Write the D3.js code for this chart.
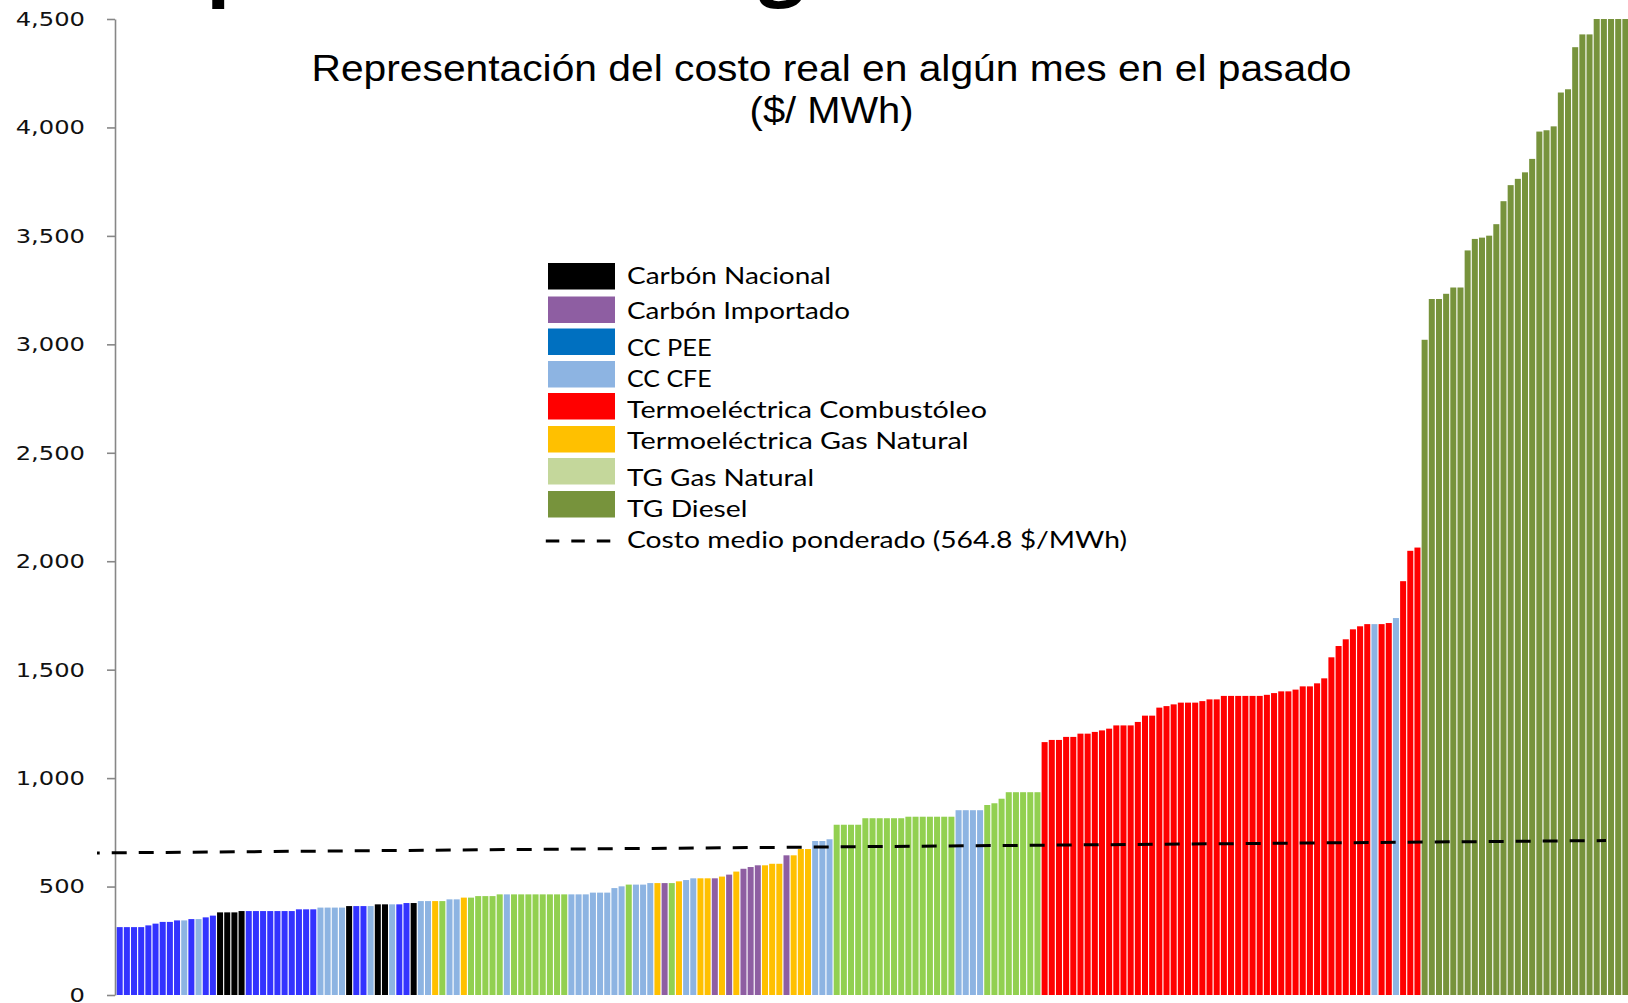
<!DOCTYPE html>
<html><head><meta charset="utf-8">
<script src="https://cdn.jsdelivr.net/npm/d3@7"></script>
<style>
html,body{margin:0;padding:0;background:#fff;overflow:hidden}
svg{display:block}
</style></head>
<body>
<svg id="chart" width="1628" height="1003"></svg>
<script>
// ---------- DATA ----------
const typeKeys = ["N","I","P","C","R","Y","G","D"];
const legendLabels = ["Carbón Nacional","Carbón Importado","CC PEE","CC CFE",
  "Termoeléctrica Combustóleo","Termoeléctrica Gas Natural","TG Gas Natural","TG Diesel"];
const legendColors = ["#000000","#8E5EA2","#0070C0","#8DB4E2","#FF0000","#FFC000","#C4D79B","#77933C"];
const barColors    = ["#000000","#8E5EA2","#3333FF","#8DB4E2","#FF0000","#FFC000","#92D050","#77933C"];
const avgLabel = "Costo medio ponderado (564.8 $/MWh)";
const titleLines = ["Representación del costo real en algún mes en el pasado", "($/ MWh)"];
const headingParts = ["Com", "paración de ", "generación"];
const yTicks = [0,500,1000,1500,2000,2500,3000,3500,4000,4500];

const barTypes = [
 "P","P","P","P","P","P","P","P","P","C","P","C","P","P",
 "N","N","N","N","P","P","P","P","P","P","P","P","P","P",
 "C","C","C","C","N","P","P","C","N","N","C","P","P","N",
 "C","C","Y","G","C","C","Y","G","G","G","G","G","C","G",
 "G","G","G","G","G","G","G","C","C","C","C","C","C","C",
 "C","G","C","C","C","Y","I","G","Y","C","C","Y","Y","I",
 "Y","I","Y","I","I","I","Y","Y","Y","I","Y","Y","Y","C",
 "C","C","G","G","G","G","G","G","G","G","G","G","G","G",
 "G","G","G","G","G","C","C","C","C","G","G","G","G","G",
 "G","G","G","R","R","R","R","R","R","R","R","R","R","R",
 "R","R","R","R","R","R","R","R","R","R","R","R","R","R",
 "R","R","R","R","R","R","R","R","R","R","R","R","R","R",
 "R","R","R","R","R","R","R","C","R","R","C","R","R","R",
 "D","D","D","D","D","D","D","D","D","D","D","D","D","D",
 "D","D","D","D","D","D","D","D","D","D","D","D","D","D","D"
];
const barValues = [
 313,313,313,313,321,329,337,337,344,344,350,350,358,366,
 381,381,381,387,387,387,387,387,387,387,387,395,395,395,
 403,403,403,403,410,410,410,410,418,418,418,418,424,424,
 433,433,433,433,441,441,449,449,456,456,456,464,464,464,
 464,464,464,464,464,464,464,464,464,464,472,472,472,493,
 501,509,509,509,516,516,516,516,524,530,538,538,538,538,
 546,555,569,582,590,598,598,605,605,644,644,673,673,710,
 710,718,785,785,785,785,815,815,815,815,815,815,822,822,
 822,822,822,822,822,852,852,852,852,876,884,905,935,935,
 935,935,935,1166,1176,1176,1190,1190,1205,1205,1213,1220,1228,1243,
 1243,1243,1259,1288,1288,1325,1332,1340,1348,1348,1348,1355,1363,1363,
 1379,1379,1379,1379,1379,1379,1384,1392,1400,1400,1408,1423,1423,1437,
 1460,1557,1609,1640,1686,1700,1710,1710,1710,1715,1738,1908,2048,2063,
 3021,3209,3209,3233,3262,3262,3433,3486,3492,3501,3554,3660,3734,3763,
 3793,3855,3981,3987,4005,4161,4176,4370,4429,4429,4500,4500,4500,4500,4500
];
// weighted-average reference line as drawn (position in bar units, value)
const avgLinePos = [-2.66, 207.8];
const avgLineVal = [655, 712];

// ---------- LAYOUT ----------
const svg = d3.select("#chart");
const W = 1628, H = 1003;
const yTop = 19, yBottom = 995, axisX = 115;
const x0 = 116.1, step = 7.17;
const N = barValues.length;

const bars = barValues.map((v, i) => ({i, v, t: barTypes[i]}));
const colorOf = d3.scaleOrdinal().domain(typeKeys).range(barColors);

const x = d3.scaleBand().domain(d3.range(N)).range([x0, x0 + step * N])
  .paddingInner(0.16).paddingOuter(0.08);
const xPos = d3.scaleLinear().domain([0, N]).range([x0, x0 + step * N]);
const y = d3.scaleLinear().domain([0, 4500]).range([yBottom, yTop]);

svg.append("rect").attr("width", W).attr("height", H).attr("fill", "#fff");

// clipped big heading (only descenders visible)
const headFont = "'Open Sans', 'DejaVu Sans', sans-serif";
svg.append("text").attr("x", 206).attr("y", -10).attr("text-anchor", "end")
  .attr("font-family", headFont).attr("font-weight", 700).attr("font-size", 80).text(headingParts[0]);
svg.append("text").attr("x", 206).attr("y", -10)
  .attr("font-family", headFont).attr("font-weight", 700).attr("font-size", 80).text(headingParts[1]);
svg.append("text").attr("x", 759).attr("y", -10)
  .attr("font-family", headFont).attr("font-weight", 700).attr("font-size", 80).text(headingParts[2]);

// bars
svg.append("g").selectAll("rect").data(bars).join("rect")
  .attr("x", d => x(d.i))
  .attr("width", x.bandwidth())
  .attr("y", d => y(Math.min(d.v, 4500)))
  .attr("height", d => yBottom - y(Math.min(d.v, 4500)))
  .attr("fill", d => colorOf(d.t));

// y axis
const yAxis = d3.axisLeft(y).tickValues(yTicks).tickFormat(d3.format(","))
  .tickSize(8).tickSizeOuter(0).tickPadding(22);
const gy = svg.append("g").attr("transform", `translate(${axisX},0)`).call(yAxis);
gy.select(".domain").attr("stroke", "#878787").attr("stroke-width", 1.6);
gy.selectAll(".tick line").attr("stroke", "#878787").attr("stroke-width", 1.6);
gy.selectAll(".tick text")
  .attr("font-family", "'DejaVu Sans', Verdana, sans-serif")
  .attr("font-size", 20).attr("fill", "#111")
  .each(function() {
    const w = this.getComputedTextLength();
    this.setAttribute("textLength", w * 1.21);
    this.setAttribute("lengthAdjust", "spacingAndGlyphs");
  });

// average dashed line
const avgPts = avgLinePos.map((p, k) => [xPos(p), y(avgLineVal[k])]);
svg.append("path").attr("d", d3.line()(avgPts))
  .attr("stroke", "#000").attr("stroke-width", 3).attr("fill", "none")
  .attr("stroke-dasharray", "15,12").attr("stroke-dashoffset", 12.3);

// title
const titleFont = "'Liberation Sans', Arial, sans-serif";
svg.append("text").attr("x", 311.5).attr("y", 81)
  .attr("font-family", titleFont).attr("font-size", 36).attr("fill", "#000")
  .attr("textLength", 1040).attr("lengthAdjust", "spacingAndGlyphs").text(titleLines[0]);
svg.append("text").attr("x", 749.6).attr("y", 123)
  .attr("font-family", titleFont).attr("font-size", 36).attr("fill", "#000")
  .attr("textLength", 164).attr("lengthAdjust", "spacingAndGlyphs").text(titleLines[1]);

// legend
const legFont = "Lato, 'Open Sans', sans-serif";
const swTops = [263, 296.5, 328.5, 361, 393, 426, 458, 491];
const txtBase = [283.5, 319, 355.5, 386.5, 417.5, 448.5, 485.8, 516.5];
const txtLen = [203.8, 223, 84.6, 84.6, 360, 341.5, 187, 120.4];
const leg = svg.append("g");
legendLabels.forEach((lab, k) => {
  leg.append("rect").attr("x", 548).attr("y", swTops[k]).attr("width", 67).attr("height", 26.5)
    .attr("fill", legendColors[k]);
  leg.append("text").attr("x", 627).attr("y", txtBase[k])
    .attr("font-family", legFont).attr("font-size", 23).attr("fill", "#000")
    .attr("textLength", txtLen[k]).attr("lengthAdjust", "spacingAndGlyphs").text(lab);
});
leg.append("line").attr("x1", 545.8).attr("x2", 612.3).attr("y1", 541).attr("y2", 541)
  .attr("stroke", "#000").attr("stroke-width", 3).attr("stroke-dasharray", "13.5,12");
leg.append("text").attr("x", 627).attr("y", 547.5)
  .attr("font-family", legFont).attr("font-size", 23).attr("fill", "#000")
  .attr("textLength", 500).attr("lengthAdjust", "spacingAndGlyphs").text(avgLabel);
</script>
</body></html>
